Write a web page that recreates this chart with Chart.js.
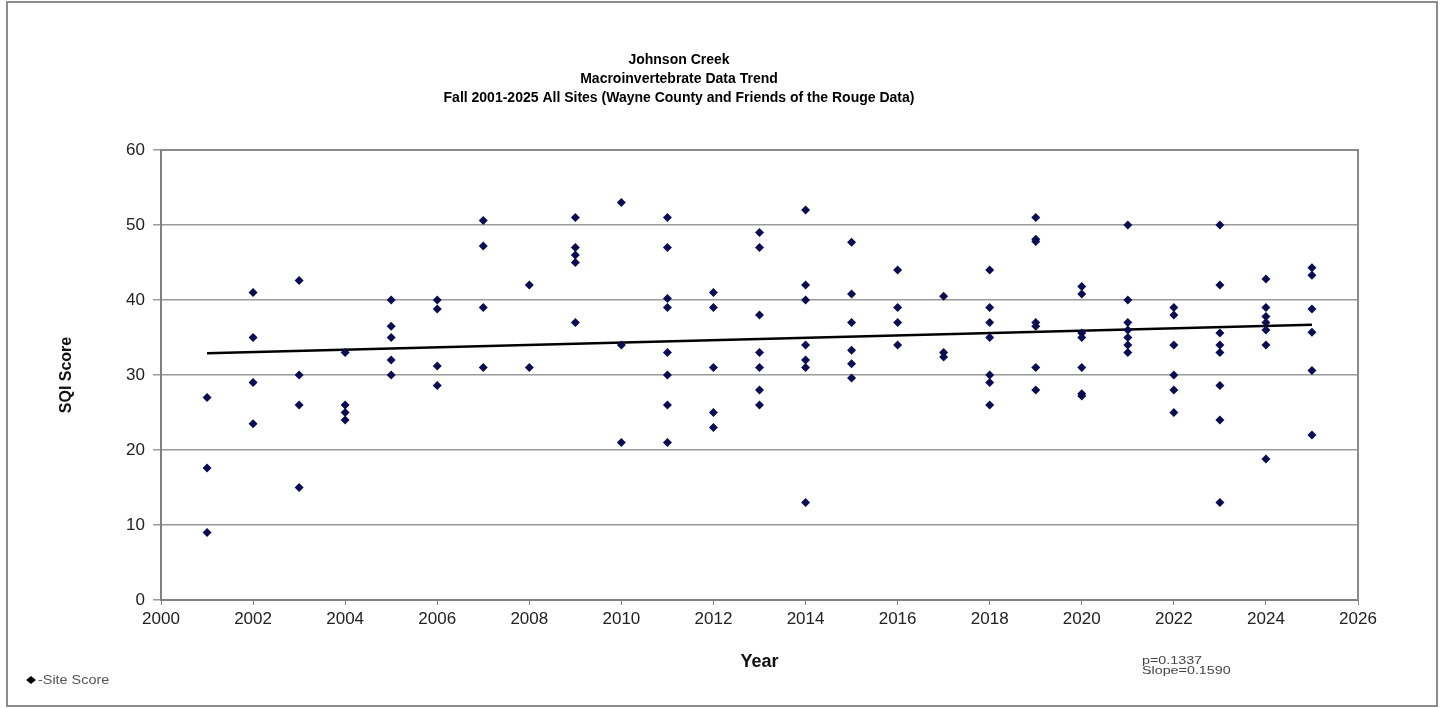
<!DOCTYPE html>
<html>
<head>
<meta charset="utf-8">
<title>Johnson Creek Macroinvertebrate Data Trend</title>
<script src="https://cdn.jsdelivr.net/npm/chart.js@4.4.1/dist/chart.umd.min.js"></script>
<style>
  html, body { margin: 0; padding: 0; background: #fff; }
  #wrap { width: 1444px; height: 708px; }
</style>
</head>
<body>
<div id="wrap"><canvas id="sqiChart" width="1444" height="708"></canvas></div>
<script>
// Fall sampling years and the site scores recorded in each one
const years = [2001, 2002, 2003, 2004, 2005, 2006, 2007, 2008, 2009, 2010, 2011, 2012, 2013,
               2014, 2015, 2016, 2017, 2018, 2019, 2020, 2021, 2022, 2023, 2024, 2025];
const scoresByYear = [
    [27, 17.6, 9],
    [41, 35, 29, 23.5],
    [42.6, 30, 26, 15],
    [33, 26, 25, 24],
    [40, 36.5, 35, 32, 30],
    [40, 38.8, 31.2, 28.6],
    [50.6, 47.2, 39, 31],
    [42, 31],
    [51, 47, 46, 45, 37],
    [53, 34, 21],
    [51, 47, 40.2, 39, 33, 30, 26, 21],
    [41, 39, 31, 25, 23],
    [49, 47, 38, 33, 31, 28, 26],
    [52, 42, 40, 34, 32, 31, 13],
    [47.7, 40.8, 37, 33.3, 31.5, 29.6],
    [44, 39, 37, 34],
    [40.5, 33, 32.4],
    [44, 39, 37, 35, 30, 29, 26],
    [51, 48.1, 47.8, 37, 36.5, 31, 28],
    [41.8, 40.8, 35.6, 35, 31, 27.5, 27.2],
    [50, 40, 37, 36, 35, 34, 33],
    [39, 38, 34, 30, 28, 25],
    [50, 42, 35.6, 34, 33, 28.6, 24, 13],
    [42.8, 39, 37.8, 37, 36, 34, 18.8],
    [44.3, 43.3, 38.8, 35.7, 30.6, 22]
];

// Linear trend: value at the first year plus the reported slope
const trendYears = [2001, 2025];
const trendStart = 32.9;
const trendSlope = 0.1590;
const trendP = 0.1337;

const titleLines = [
    'Johnson Creek',
    'Macroinvertebrate Data Trend',
    'Fall 2001-2025 All Sites (Wayne County and Friends of the Rouge Data)'
];

const yTicks = { min: 0, max: 60, step: 10 };
const xTicks = { min: 2000, max: 2026, step: 2 };

const sitePoints = [];
years.forEach((yr, i) => {
    scoresByYear[i].forEach(s => sitePoints.push({ x: yr, y: s }));
});
const trendPoints = trendYears.map(yr => ({ x: yr, y: trendStart + trendSlope * (yr - trendYears[0]) }));

const FONT = '"Liberation Sans", Arial, sans-serif';
const NAVY = '#0c0c52';
const GRID = '#9a9a9a';

// frame, plot border, legend key and the statistics note
const decorations = {
    id: 'decorations',
    beforeDraw(chart) {
        const ctx = chart.ctx;
        ctx.save();
        ctx.fillStyle = '#fff';
        ctx.fillRect(0, 0, chart.width, chart.height);
        ctx.strokeStyle = '#8c8c8c';
        ctx.lineWidth = 2;
        ctx.strokeRect(7, 2, 1430, 704);
        ctx.restore();
    },
    afterDraw(chart) {
        const ctx = chart.ctx;
        const a = chart.chartArea;
        ctx.save();
        ctx.strokeStyle = '#8a8a8a';
        ctx.lineWidth = 2;
        ctx.beginPath();
        ctx.moveTo(a.left, a.top);
        ctx.lineTo(a.right, a.top);
        ctx.lineTo(a.right, a.bottom);
        ctx.stroke();

        // legend key
        ctx.fillStyle = '#000';
        ctx.beginPath();
        ctx.moveTo(31, 676);
        ctx.lineTo(36, 680);
        ctx.lineTo(31, 684);
        ctx.lineTo(26, 680);
        ctx.closePath();
        ctx.fill();

        ctx.fillStyle = '#555';
        ctx.textBaseline = 'middle';
        ctx.textAlign = 'left';
        ctx.font = '12px ' + FONT;
        ctx.save();
        ctx.translate(38, 681);
        ctx.scale(1.2, 1);
        ctx.fillText('-Site Score', 0, 0);
        ctx.restore();

        // trend statistics
        ctx.fillStyle = '#444';
        ctx.font = '11px ' + FONT;
        ctx.save();
        ctx.translate(1142, 661);
        ctx.scale(1.3, 1);
        ctx.fillText('p=' + trendP.toFixed(4), 0, 0);
        ctx.fillText('Slope=' + trendSlope.toFixed(4), 0, 10);
        ctx.restore();
        ctx.restore();
    }
};

new Chart(document.getElementById('sqiChart'), {
    type: 'scatter',
    data: {
        datasets: [{
            label: 'Site Score',
            data: sitePoints,
            pointStyle: 'rectRot',
            pointRadius: 4.5,
            pointHoverRadius: 4.5,
            backgroundColor: NAVY,
            borderColor: NAVY,
            borderWidth: 0
        }, {
            label: 'Trend',
            type: 'line',
            data: trendPoints,
            borderColor: '#000',
            borderWidth: 2.5,
            pointRadius: 0,
            fill: false
        }]
    },
    options: {
        responsive: false,
        animation: false,
        layout: { padding: { left: 0, right: 86, top: 0, bottom: 0 } },
        plugins: {
            legend: { display: false },
            tooltip: { enabled: false },
            title: {
                display: true,
                text: titleLines,
                color: '#000',
                font: { family: FONT, size: 14, weight: 'bold', lineHeight: 1.35 },
                padding: { top: 51, bottom: 42.3 }
            }
        },
        scales: {
            x: {
                type: 'linear',
                min: xTicks.min,
                max: xTicks.max,
                afterFit: s => { s.height = 108; },
                ticks: {
                    stepSize: xTicks.step,
                    color: '#222',
                    padding: 4,
                    maxRotation: 0,
                    font: { family: FONT, size: 17 },
                    callback: v => String(v)
                },
                grid: { drawOnChartArea: false, drawTicks: true, tickLength: 5, color: '#808080' },
                border: { color: '#808080', width: 2 },
                title: {
                    display: true,
                    text: 'Year',
                    color: '#111',
                    font: { family: FONT, size: 18, weight: 'bold' },
                    padding: { top: 0, bottom: 35 }
                }
            },
            y: {
                min: yTicks.min,
                max: yTicks.max,
                afterFit: s => { s.width = 161; },
                ticks: {
                    stepSize: yTicks.step,
                    color: '#222',
                    padding: 8,
                    font: { family: FONT, size: 17 }
                },
                grid: { color: GRID, lineWidth: 1.5, tickLength: 8 },
                border: { color: '#808080', width: 2 },
                title: {
                    display: true,
                    text: 'SQI Score',
                    color: '#111',
                    font: { family: FONT, size: 16, weight: 'bold' },
                    padding: { top: 57, bottom: 0 }
                }
            }
        }
    },
    plugins: [decorations]
});
</script>
</body>
</html>
